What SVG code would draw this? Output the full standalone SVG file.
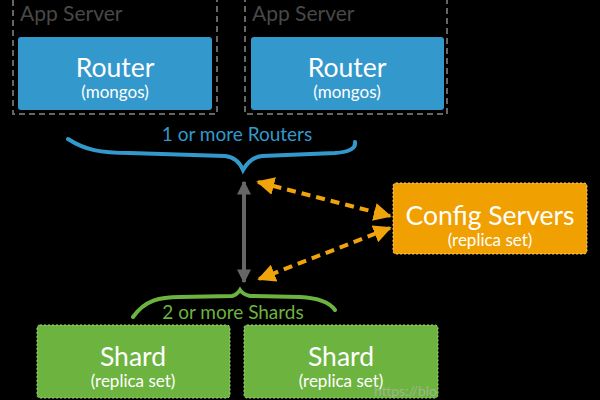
<svg xmlns="http://www.w3.org/2000/svg" width="600" height="400" viewBox="0 0 600 400">
<defs>
<style>
.t{font-family:Lato,"Open Sans","Liberation Sans",sans-serif;text-anchor:middle;fill:#fff}
.big{font-size:26.5px}
.small{font-size:17px}
.app{fill:none;stroke:#666;stroke-width:2;stroke-dasharray:6 4}
.apptxt{font-family:Lato,"Open Sans","Liberation Sans",sans-serif;font-size:21px;fill:#484848}
.router{fill:#3399cc}
.shard{fill:#6cb33f;stroke:#a6d486;stroke-width:1;stroke-dasharray:2 2}
.config{fill:#f0a000;stroke:#f8cf80;stroke-width:1;stroke-dasharray:2 2}
.orange{fill:none;stroke:#f0a30a;stroke-width:4;stroke-dasharray:9 6}
</style>
<marker id="oa" viewBox="0 0 10 10" refX="9" refY="5" markerWidth="4.5" markerHeight="4.5" orient="auto-start-reverse" markerUnits="strokeWidth">
<path d="M0,0 L10,5 L0,10 z" fill="#f0a30a"/>
</marker>
<marker id="ga" viewBox="0 0 10 10" refX="9" refY="5" markerWidth="3.5" markerHeight="3.5" orient="auto-start-reverse" markerUnits="strokeWidth">
<path d="M0,0 L10,5 L0,10 z" fill="#666"/>
</marker>
</defs>
<rect width="600" height="400" fill="#000"/>

<g id="appserver1">
<rect class="app" x="13" y="-10" width="204" height="124"/>
<text class="apptxt" x="20" y="21">App Server</text>
</g>
<g id="appserver2">
<rect class="app" x="245" y="-10" width="202" height="124"/>
<text class="apptxt" x="252" y="21">App Server</text>
</g>
<g id="router1">
<rect class="router" x="18" y="37" width="194" height="73" rx="3"/>
<text class="t big" x="115" y="77">Router</text>
<text class="t small" x="115" y="98">(mongos)</text>
</g>
<g id="router2">
<rect class="router" x="251" y="37" width="193" height="73" rx="3"/>
<text class="t big" x="347" y="77">Router</text>
<text class="t small" x="347" y="98">(mongos)</text>
</g>
<g id="routers-brace">
<path d="M68,139 C85,150 100,153 130,153 L225,156 C235,157 240,163 243,170 C247,163 252,157 262,156 L335,153 C350,152 356,148 355,142" fill="none" stroke="#3399cc" stroke-width="4" stroke-linecap="round"/>
<text x="237" y="141" style="font-family:Lato,'Open Sans','Liberation Sans',sans-serif;font-size:19px;fill:#3399cc;text-anchor:middle">1 or more Routers</text>
</g>
<g id="config">
<rect class="config" x="393" y="183" width="194" height="71" rx="3"/>
<text class="t big" x="490" y="225">Config Servers</text>
<text class="t small" x="490" y="246">(replica set)</text>
</g>
<g id="shards-brace">
<path d="M133,317 C145,300 160,297 180,297 L232,296 C236,295 238,293 240,290 C242,293 245,295 250,296 L300,297 C320,298 330,303 335,310" fill="none" stroke="#6cb33f" stroke-width="4" stroke-linecap="round"/>
<text x="233" y="319" style="font-family:Lato,'Open Sans','Liberation Sans',sans-serif;font-size:19px;fill:#6cb33f;text-anchor:middle">2 or more Shards</text>
</g>
<g id="shard1">
<rect class="shard" x="37" y="325" width="193" height="73" rx="3"/>
<text class="t big" x="133" y="366">Shard</text>
<text class="t small" x="133" y="387">(replica set)</text>
</g>
<g id="shard2">
<rect class="shard" x="244" y="325" width="194" height="73" rx="3"/>
<text class="t big" x="341" y="366">Shard</text>
<text class="t small" x="341" y="387">(replica set)</text>
</g>
<g id="connectors">
<line x1="244" y1="182" x2="244" y2="282" stroke="#666" stroke-width="4" marker-start="url(#ga)" marker-end="url(#ga)"/>
<line class="orange" x1="258" y1="182" x2="390" y2="216" marker-start="url(#oa)" marker-end="url(#oa)"/>
<line class="orange" x1="390" y1="228" x2="259" y2="279" marker-start="url(#oa)" marker-end="url(#oa)"/>
</g>
<text x="374" y="396" textLength="63" lengthAdjust="spacingAndGlyphs" style="font-family:Lato,'Open Sans','Liberation Sans',sans-serif;font-size:13px;fill:#bbb;opacity:0.6">https://blo</text>
</svg>
